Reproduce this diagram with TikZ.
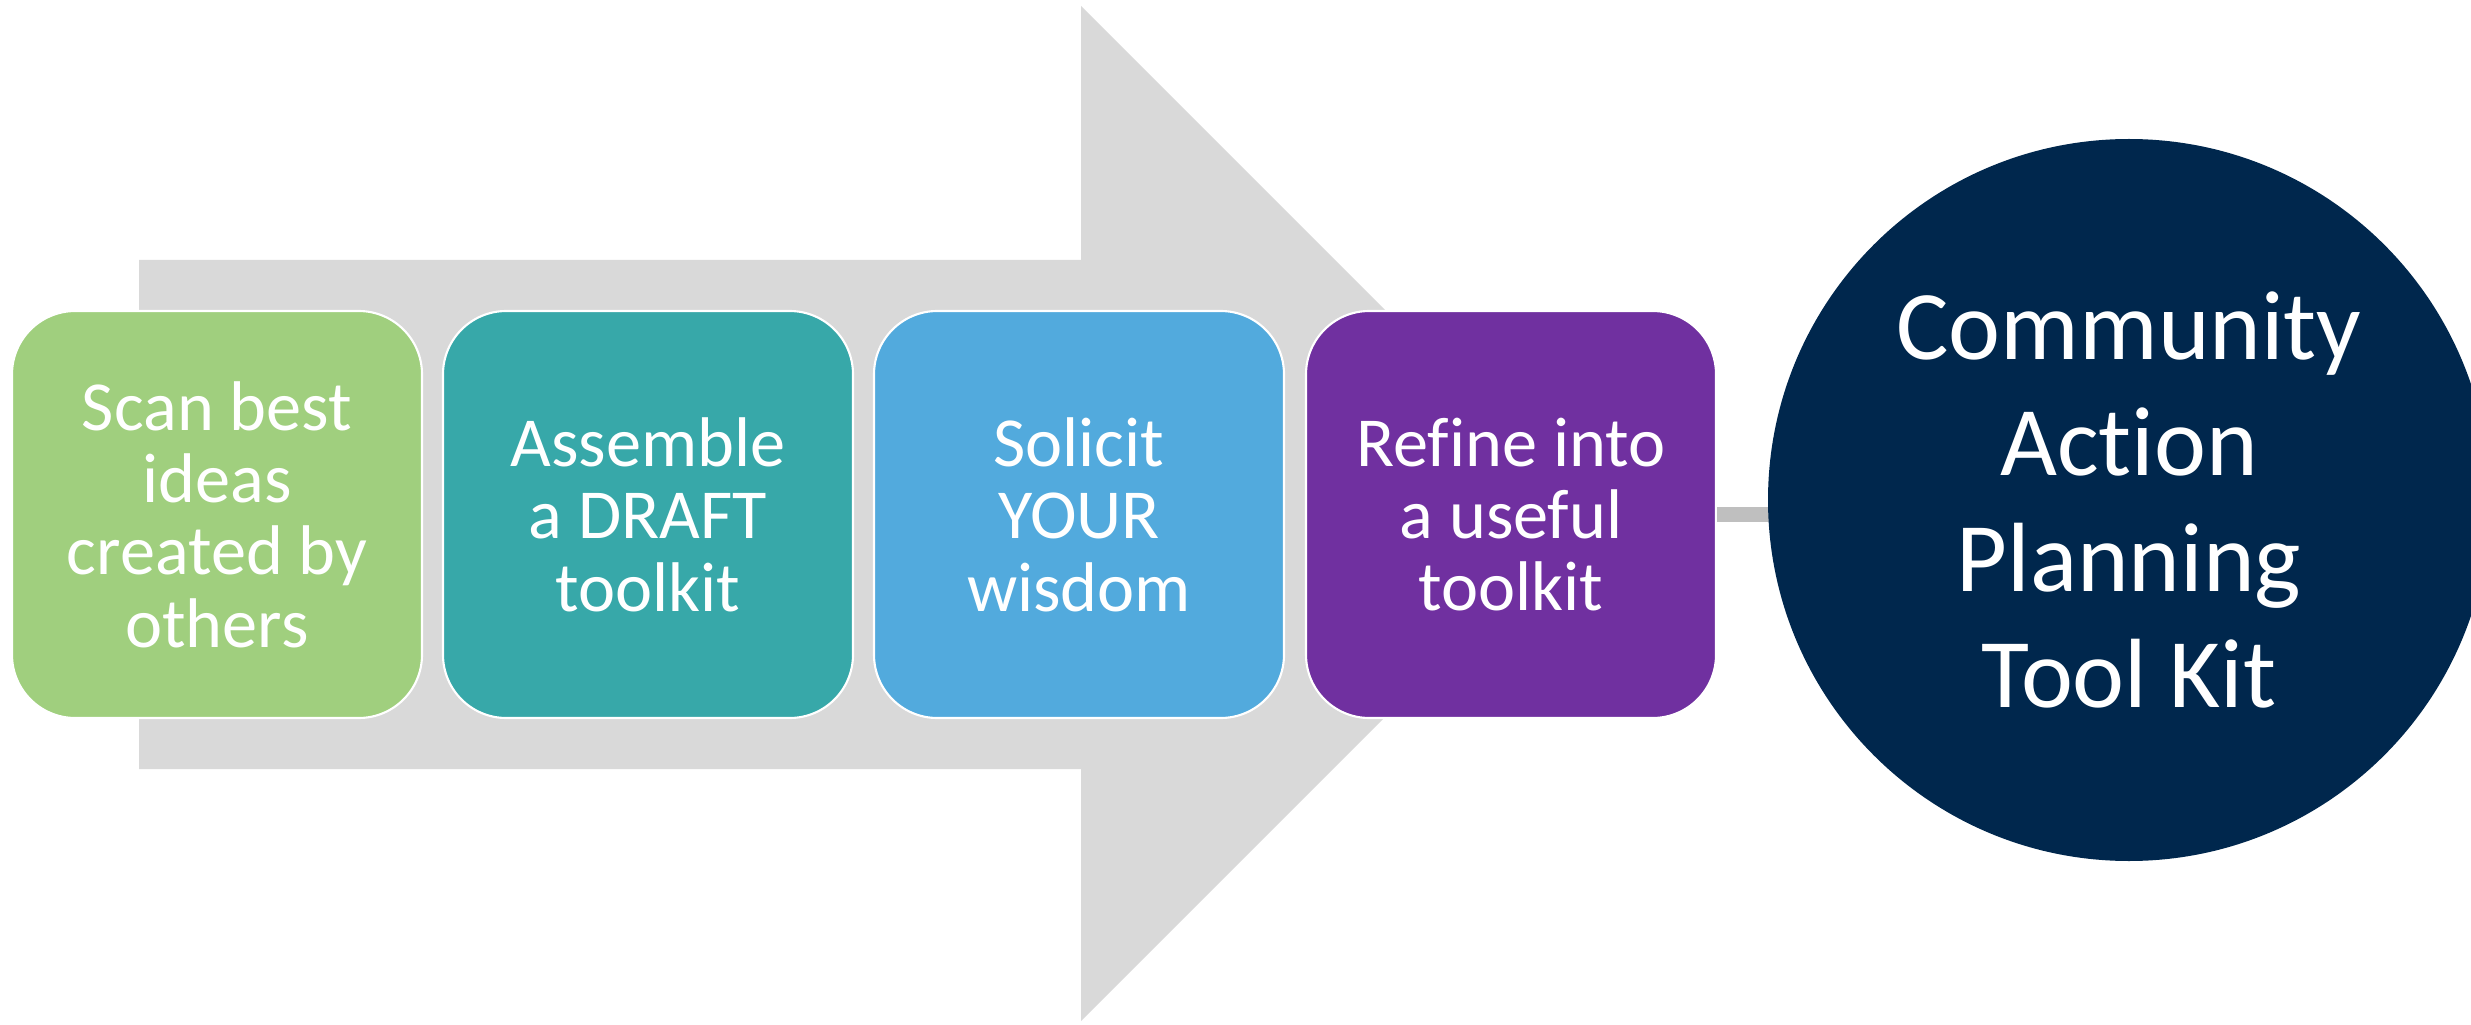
\documentclass[tikz,border=0pt]{standalone}
\usepackage{fontspec}
\setmainfont{Carlito}[Ligatures={NoCommon}]
\definecolor{arrowgray}{HTML}{D9D9D9}
\definecolor{linkgray}{HTML}{BFBFBF}
\definecolor{scangreen}{HTML}{A0CF7E}
\definecolor{draftteal}{HTML}{37A8A9}
\definecolor{wisdomblue}{HTML}{52AADD}
\definecolor{refinepurple}{HTML}{7030A0}
\definecolor{kitnavy}{HTML}{00274D}
\begin{document}
\begin{tikzpicture}
        \useasboundingbox (0,0) rectangle (24.71,10.24);
        \fill[arrowgray] (1.39,2.55) -- (1.39,7.64) -- (10.81,7.64) -- (10.81,10.18)
          -- (15.885,5.105) -- (10.81,0.03) -- (10.81,2.55) -- cycle;
        \begin{scope}[every node/.style={rectangle,rounded corners=18pt,draw=white,line width=0.6pt,
            minimum width=4.1cm,minimum height=4.07cm,text=white,align=center,
            font=\fontsize{20}{20.6}\selectfont}]
          \node[fill=scangreen]    (A) at (2.17,5.095)  {Scan best\\ideas\\created by\\others};
          \node[fill=draftteal]    (B) at (6.48,5.095)  {Assemble\\a DRAFT\\toolkit};
          \node[fill=wisdomblue]   (C) at (10.79,5.095) {Solicit\\YOUR\\wisdom};
          \node[fill=refinepurple] (D) at (15.11,5.095) {Refine into\\a useful\\toolkit};
        \end{scope}
        \coordinate (E) at (18.2,5.095);
        \begin{scope}[every path/.style={draw=linkgray,line width=0.15cm}]
          \path (D.east) -- (E);
        \end{scope}
        \node[circle,fill=kitnavy,minimum size=7.22cm,inner sep=0pt,text=white,align=center,
          font=\fontsize{28}{33}\selectfont] (K) at (21.29,5.24) {Community\\Action\\Planning\\Tool Kit};
      \end{tikzpicture}
\end{document}
